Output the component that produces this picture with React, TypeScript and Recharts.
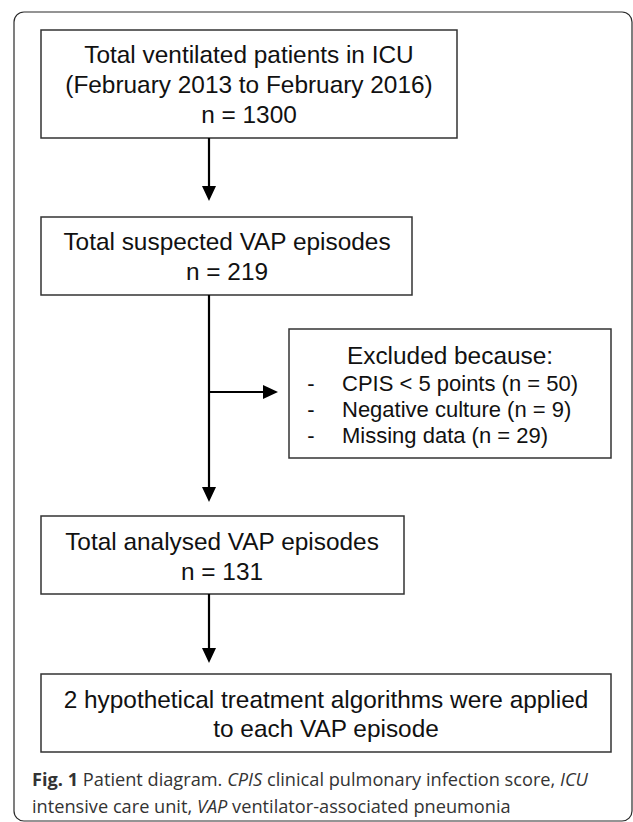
import React from "react";
import {
    ComposedChart,
    XAxis,
    YAxis,
    Scatter,
    ReferenceArea,
    ReferenceLine,
} from "recharts";

// flow values
const stageTitles = [
    "Total ventilated patients in ICU",
    "Total suspected VAP episodes",
    "Total analysed VAP episodes",
];
const studyPeriod = "(February 2013 to February 2016)";
const stageCounts = [1300, 219, 131];
const exclusionHeading = "Excluded because:";
const exclusionReasons = ["CPIS < 5 points", "Negative culture", "Missing data"];
const exclusionCounts = [50, 9, 29];
const outcomeLines = [
    "2 hypothetical treatment algorithms were applied",
    "to each VAP episode",
];
const captionLine1 = [
    { t: "Fig. 1", b: true },
    { t: " Patient diagram. " },
    { t: "CPIS", i: true },
    { t: " clinical pulmonary infection score, " },
    { t: "ICU", i: true },
];
const captionLine2 = [
    { t: "intensive care unit, " },
    { t: "VAP", i: true },
    { t: " ventilator-associated pneumonia" },
];

const W = 633;
const H = 822;
const FONT = "'Liberation Sans', Arial, sans-serif";
const CAPTION_FONT = "'Open Sans', sans-serif";
const INK = "#111111";
const BORDER = "#333333";
const SPINE_X = 209;

// layout in chart units (1 unit = 1px)
const frame = { x1: 14, x2: 632, y1: 12, y2: 821 };
const stageBoxes = [
    { x1: 41, x2: 457, y1: 30, y2: 138 },
    { x1: 41, x2: 412, y1: 217, y2: 295 },
    { x1: 41, x2: 404, y1: 516, y2: 594 },
];
const exclusionBox = { x1: 289, x2: 611, y1: 329, y2: 458 };
const outcomeBox = { x1: 41, x2: 611, y1: 674, y2: 752 };

const connectors = [
    [SPINE_X, stageBoxes[0].y2, SPINE_X, 190],
    [SPINE_X, stageBoxes[1].y2, SPINE_X, 492],
    [SPINE_X, 392, 268, 392],
    [SPINE_X, stageBoxes[2].y2, SPINE_X, 653],
];
const arrowTips = [
    { x: SPINE_X, y: 201, dir: "down" },
    { x: 278, y: 392, dir: "right" },
    { x: SPINE_X, y: 502, dir: "down" },
    { x: SPINE_X, y: 663, dir: "down" },
];

type TextItem = {
    x: number;
    y: number;
    text?: string;
    parts?: { t: string; b?: boolean; i?: boolean }[];
    anchor: "start" | "middle" | "end";
    size?: number;
    caption?: boolean;
};

const reasonBaselines = [390.5, 416.5, 443];

const textItems: TextItem[] = [
    { x: 249, y: 63, text: stageTitles[0], anchor: "middle" },
    { x: 249, y: 93, text: studyPeriod, anchor: "middle" },
    { x: 249, y: 122.5, text: `n = ${stageCounts[0]}`, anchor: "middle" },
    { x: 227, y: 250, text: stageTitles[1], anchor: "middle" },
    { x: 227, y: 280, text: `n = ${stageCounts[1]}`, anchor: "middle" },
    { x: 450, y: 363.5, text: exclusionHeading, anchor: "middle" },
    ...exclusionReasons.flatMap((r, i) => [
        { x: 311, y: reasonBaselines[i], text: "-", anchor: "middle" as const, size: 22 },
        {
            x: 342,
            y: reasonBaselines[i],
            text: `${r} (n = ${exclusionCounts[i]})`,
            anchor: "start" as const,
            size: 22,
        },
    ]),
    { x: 222, y: 549.5, text: stageTitles[2], anchor: "middle" },
    { x: 222, y: 580, text: `n = ${stageCounts[2]}`, anchor: "middle" },
    { x: 326, y: 707.5, text: outcomeLines[0], anchor: "middle" },
    { x: 326, y: 737, text: outcomeLines[1], anchor: "middle" },
    { x: 32, y: 786, parts: captionLine1, anchor: "start", caption: true },
    { x: 32, y: 813, parts: captionLine2, anchor: "start", caption: true },
];

function TextMark(props: any) {
    const { cx, cy, payload } = props;
    if (payload.caption) {
        return (
            <text
                x={cx}
                y={cy}
                textAnchor="start"
                fontFamily={CAPTION_FONT}
                fontSize={18.2}
                fill="#333333"
            >
                {payload.parts.map((p: any, k: number) => (
                    <tspan
                        key={k}
                        fontWeight={p.b ? 700 : 400}
                        fontStyle={p.i ? "italic" : "normal"}
                        style={{ whiteSpace: "pre" }}
                    >
                        {p.t}
                    </tspan>
                ))}
            </text>
        );
    }
    return (
        <text
            x={cx}
            y={cy}
            textAnchor={payload.anchor}
            fontFamily={FONT}
            fontSize={payload.size ?? 24.4}
            fill={INK}
        >
            {payload.text}
        </text>
    );
}

function ArrowHead(props: any) {
    const { cx, cy, payload } = props;
    const d =
        payload.dir === "right"
            ? `M${cx - 15},${cy - 7} L${cx - 15},${cy + 7} L${cx},${cy} Z`
            : `M${cx - 7},${cy - 15} L${cx + 7},${cy - 15} L${cx},${cy} Z`;
    return <path d={d} fill="#000000" />;
}

export default function App() {
    const allBoxes = [...stageBoxes, exclusionBox, outcomeBox];
    return (
        <div
            style={{
                position: "absolute",
                left: 0,
                top: 0,
                width: W,
                height: H,
                background: "#ffffff",
            }}
        >
            <ComposedChart
                width={W}
                height={H}
                margin={{ top: 0, right: 0, bottom: 0, left: 0 }}
            >
                <XAxis
                    type="number"
                    dataKey="x"
                    domain={[0, W]}
                    allowDataOverflow
                    hide
                />
                <YAxis
                    type="number"
                    dataKey="y"
                    domain={[0, H]}
                    allowDataOverflow
                    reversed
                    hide
                />
                <ReferenceArea
                    x1={frame.x1}
                    x2={frame.x2}
                    y1={frame.y1}
                    y2={frame.y2}
                    ifOverflow="visible"
                    shape={(p: any) => (
                        <rect
                            x={p.x}
                            y={p.y}
                            width={p.width}
                            height={p.height}
                            rx={10}
                            ry={10}
                            fill="none"
                            stroke="#2a2a2a"
                            strokeWidth={1.2}
                        />
                    )}
                />
                {allBoxes.map((b, i) => (
                    <ReferenceArea
                        key={`box-${i}`}
                        x1={b.x1}
                        x2={b.x2}
                        y1={b.y1}
                        y2={b.y2}
                        ifOverflow="visible"
                        fill="none"
                        fillOpacity={0}
                        stroke={BORDER}
                        strokeWidth={1.5}
                    />
                ))}
                {connectors.map((c, i) => (
                    <ReferenceLine
                        key={`line-${i}`}
                        segment={[
                            { x: c[0], y: c[1] },
                            { x: c[2], y: c[3] },
                        ]}
                        ifOverflow="visible"
                        stroke="#000000"
                        strokeWidth={2.2}
                    />
                ))}
                <Scatter
                    data={arrowTips}
                    shape={(p: any) => <ArrowHead {...p} />}
                    isAnimationActive={false}
                />
                <Scatter
                    data={textItems}
                    shape={(p: any) => <TextMark {...p} />}
                    isAnimationActive={false}
                />
            </ComposedChart>
        </div>
    );
}
